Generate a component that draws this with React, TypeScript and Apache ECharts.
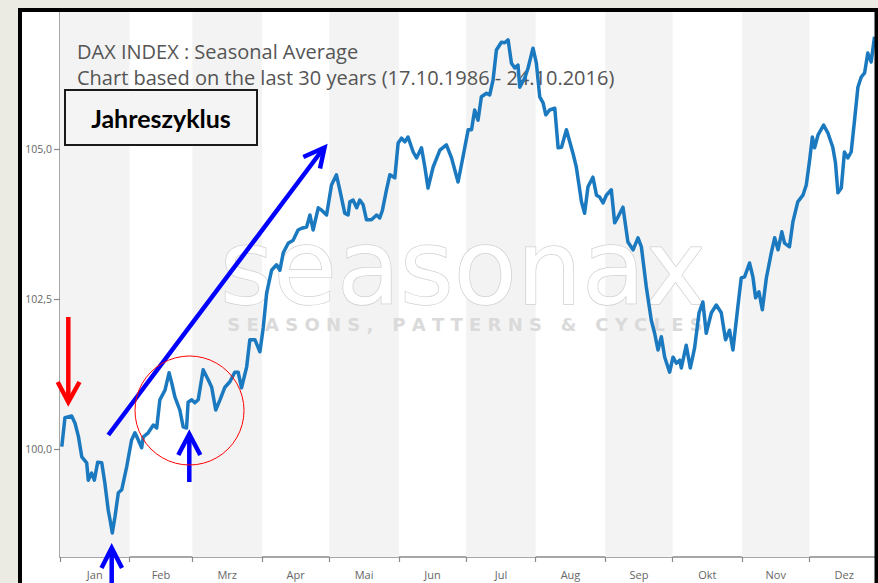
import React, { useEffect, useRef } from "react";
import * as echarts from "echarts";

const MONTHS = ["Jan", "Feb", "Mrz", "Apr", "Mai", "Jun", "Jul", "Aug", "Sep", "Okt", "Nov", "Dez"];
const MONTH_STARTS = [0, 31, 59, 90, 120, 151, 181, 212, 243, 273, 304, 334];
const YEAR_DAYS = 365;
const Y_TICKS = [100, 102.5, 105];
const Y_MIN = 98.2;
const Y_MAX = 107.3;

const TITLE_1 = "DAX INDEX : Seasonal Average";
const TITLE_2 = "Chart based on the last 30 years (17.10.1986 - 24.10.2016)";
const BOX_LABEL = "Jahreszyklus";
const WATERMARK = "seasonax";
const WATERMARK_SUB = "SEASONS, PATTERNS & CYCLES";

// day of year (0 = 1 Jan)
const DAYS = [
  0.8, 2.2, 5.2, 6.7, 8.2, 9.7, 11.9, 12.6, 14.1, 15.3, 16.8, 18.6, 20.0, 21.5, 22.3, 23.3, 24.5, 26.0, 27.5, 29.7,
  31.9, 33.4, 34.9, 36.4, 37.1, 39.3, 41.6, 43.1, 44.5, 46.8, 48.6, 49.8, 51.2, 53.4, 54.9, 56.4, 57.1, 58.7, 60.1, 61.6,
  63.8, 66.1, 67.6, 69.4, 71.3, 73.5, 75.7, 77.9, 79.4, 80.9, 83.2, 84.6, 86.9, 89.1, 90.6, 92.1, 94.3, 96.5, 98.0, 99.5,
  101.7, 103.9, 106.1, 107.7, 109.9, 111.4, 112.8, 115.1, 116.6, 118.8, 121.0, 123.2, 124.7, 126.9, 128.4, 129.2, 130.6, 132.2, 133.6, 135.1,
  136.6, 138.8, 141.1, 142.5, 143.7, 145.5, 147.0, 149.2, 150.7, 152.2, 153.7, 155.1, 157.4, 158.9, 161.1, 162.6, 164.0, 166.3, 169.3, 172.2,
  174.5, 177.4, 179.6, 181.9, 183.4, 184.8, 186.3, 187.8, 190.1, 191.5, 193.0, 194.5, 196.7, 198.2, 199.7, 201.2, 202.7, 204.1, 204.9, 207.1,
  208.6, 210.8, 212.3, 213.8, 215.3, 216.5, 218.2, 220.5, 222.0, 223.5, 225.7, 228.6, 230.1, 232.4, 233.8, 235.3, 237.5, 239.1, 240.5, 242.0,
  243.5, 245.7, 247.2, 248.7, 250.9, 253.1, 255.4, 257.6, 259.1, 261.3, 263.5, 265.0, 266.5, 268.0, 269.5, 271.7, 273.2, 274.7, 276.2, 276.9,
  279.1, 280.9, 282.8, 284.8, 286.5, 288.0, 290.3, 292.5, 294.7, 296.6, 298.4, 299.9, 302.1, 303.6, 305.1, 307.3, 308.8, 310.0, 311.5, 313.0,
  314.8, 317.0, 318.5, 320.0, 321.7, 322.9, 325.1, 326.6, 328.8, 331.1, 332.6, 334.1, 335.3, 336.3, 337.8, 340.3, 342.2, 344.4, 345.6, 346.7,
  348.2, 349.6, 351.1, 352.6, 354.1, 355.6, 357.1, 358.6, 360.0, 361.5, 363.0,
];

// seasonal average index level (start = 100)
const VALUES = [
  100.04, 100.52, 100.55, 100.43, 100.21, 99.87, 99.77, 99.48, 99.6, 99.48, 99.78, 99.77, 99.43, 98.98, 98.82, 98.6, 98.87, 99.27, 99.32, 99.7,
  100.15, 100.27, 100.15, 100.02, 100.2, 100.27, 100.4, 100.35, 100.82, 100.98, 101.27, 101.1, 100.87, 100.65, 100.37, 100.35, 100.78, 100.82, 100.77, 100.82,
  101.32, 101.15, 101.03, 100.65, 100.82, 101.03, 101.12, 101.28, 101.28, 101.02, 101.37, 101.82, 101.82, 101.62, 102.03, 102.6, 102.98, 103.07, 102.98, 103.27,
  103.43, 103.48, 103.65, 103.68, 103.7, 103.9, 103.65, 104.02, 103.98, 103.9, 104.4, 104.57, 104.32, 103.93, 103.9, 104.12, 104.15, 104.02, 104.15, 104.07,
  103.82, 103.82, 103.9, 103.85, 103.98, 104.32, 104.57, 104.52, 105.1, 105.18, 105.12, 105.2, 104.95, 104.85, 105.02, 104.7, 104.35, 104.7, 104.98, 105.07,
  104.85, 104.45, 104.87, 105.32, 105.32, 105.65, 105.48, 105.87, 105.93, 105.9, 106.15, 106.65, 106.78, 106.77, 106.82, 106.43, 106.35, 106.4, 106.03, 106.18,
  106.35, 106.68, 106.43, 105.87, 105.77, 105.57, 105.65, 105.68, 105.02, 105.03, 105.32, 104.93, 104.7, 104.12, 103.93, 104.37, 104.53, 104.23, 104.2, 104.1,
  104.23, 104.32, 103.77, 103.87, 104.03, 103.45, 103.32, 103.52, 103.37, 102.7, 102.15, 101.93, 101.65, 101.87, 101.53, 101.28, 101.53, 101.43, 101.48, 101.35,
  101.73, 101.35, 101.68, 102.27, 102.45, 101.93, 102.27, 102.4, 102.27, 101.82, 101.98, 101.65, 102.37, 102.85, 102.87, 103.1, 102.87, 102.52, 102.62, 102.32,
  102.85, 103.27, 103.52, 103.32, 103.62, 103.43, 103.37, 103.78, 104.12, 104.23, 104.4, 104.82, 105.2, 105.02, 105.23, 105.4, 105.27, 105.03, 104.77, 104.27,
  104.35, 104.95, 104.85, 104.95, 105.48, 106.03, 106.2, 106.27, 106.6, 106.45, 106.87,
];

export default function App() {
  const ref = useRef<HTMLDivElement>(null);

  useEffect(() => {
    if (!ref.current) return;
    const chart = echarts.init(ref.current, undefined, { renderer: "svg" });

    const monthEnds = MONTH_STARTS.slice(1).concat([YEAR_DAYS]);
    const monthMids = MONTH_STARTS.map((s, i) => (s + monthEnds[i]) / 2);
    const bands = MONTH_STARTS.map((s, i) => [{ xAxis: s }, { xAxis: monthEnds[i] }]).filter((_, i) => i % 2 === 0);
    const lineData = DAYS.map((d, i) => [d, VALUES[i]]);

    const blue = "#0000ff";
    const red = "#ff0000";
    const nb = "\u00a0";
    const spaced = WATERMARK_SUB.split(" ")
      .map((w) => w.split("").join(nb))
      .join(nb + nb + nb);

    chart.setOption({
      animation: false,
      backgroundColor: "#ecebe3",
      grid: { left: 60, top: 11, width: 819, height: 546, outerBoundsMode: "none", containLabel: false },
      xAxis: {
        type: "value",
        min: 0,
        max: YEAR_DAYS,
        axisLine: { show: true, lineStyle: { color: "#8a8a8a", width: 1.5 } },
        axisTick: { show: true, customValues: MONTH_STARTS, length: 5, lineStyle: { color: "#8a8a8a", width: 1.2 } },
        axisLabel: {
          customValues: monthMids,
          formatter: (v: number) => {
            const i = monthMids.findIndex((m) => Math.abs(m - v) < 0.01);
            return i >= 0 ? MONTHS[i] : "";
          },
          color: "#666",
          fontSize: 11,
          fontFamily: "Open Sans",
          margin: 12,
        },
        splitLine: { show: false },
      },
      yAxis: {
        type: "value",
        min: Y_MIN,
        max: Y_MAX,
        axisLine: { show: true, lineStyle: { color: "#8a8a8a", width: 1.5 } },
        axisTick: { show: true, customValues: Y_TICKS, length: 6, lineStyle: { color: "#8a8a8a", width: 1.2 } },
        axisLabel: {
          customValues: Y_TICKS,
          formatter: (v: number) => v.toFixed(1).replace(".", ","),
          color: "#666",
          fontSize: 10.5,
          fontFamily: "Open Sans",
          margin: 8,
        },
        splitLine: { show: false },
      },
      series: [
        {
          type: "line",
          z: 1,
          data: [],
          silent: true,
          markArea: {
            silent: true,
            itemStyle: { color: "#f3f3f3" },
            data: bands,
          },
        },
        {
          type: "line",
          z: 3,
          data: lineData,
          symbol: "none",
          lineStyle: { color: "#1b79bf", width: 3.5, join: "round" },
        },
      ],
      graphic: {
        elements: [
          { type: "rect", z: -10, shape: { x: 20, y: 10, width: 870, height: 600 }, style: { fill: "#ffffff" } },
          {
            type: "text",
            z: 2,
            x: 463,
            y: 268,
            style: {
              text: WATERMARK,
              font: "normal 103px 'DejaVu Sans'",
              fill: "#ffffff",
              stroke: "#d0d0d0",
              lineWidth: 1.5,
              align: "center",
              verticalAlign: "middle",
            },
          },
          {
            type: "text",
            z: 2,
            x: 465,
            y: 324,
            style: {
              text: spaced,
              font: "bold 18px 'DejaVu Sans'",
              fill: "#dadada",
              align: "center",
              verticalAlign: "middle",
            },
          },
          {
            type: "text",
            z: 2,
            x: 77,
            y: 51,
            style: { text: TITLE_1, font: "20px 'Open Sans'", fill: "#555", verticalAlign: "middle" },
          },
          {
            type: "text",
            z: 2,
            x: 77,
            y: 77,
            style: { text: TITLE_2, font: "20px 'Open Sans'", fill: "#555", verticalAlign: "middle" },
          },
          {
            type: "rect",
            z: 10,
            shape: { x: 65, y: 90, width: 192, height: 55 },
            style: { fill: "#f4f4f4", stroke: "#1a1a1a", lineWidth: 2 },
          },
          {
            type: "text",
            z: 11,
            x: 161,
            y: 118,
            style: { text: BOX_LABEL, font: "bold 25px Lato", fill: "#000", align: "center", verticalAlign: "middle" },
          },
          // red arrow (down)
          { type: "line", z: 10, shape: { x1: 68.3, y1: 317, x2: 68.3, y2: 399 }, style: { stroke: red, lineWidth: 4.5 } },
          {
            type: "polyline",
            z: 10,
            shape: { points: [[57.7, 382], [68.3, 402], [79.5, 382]] },
            style: { stroke: red, lineWidth: 4.5, fill: "none" },
          },
          // blue arrow (Jan low)
          { type: "line", z: 10, shape: { x1: 111.7, y1: 550, x2: 111.7, y2: 590 }, style: { stroke: blue, lineWidth: 4.5 } },
          {
            type: "polyline",
            z: 10,
            shape: { points: [[101.5, 568], [111.7, 548], [122, 568]] },
            style: { stroke: blue, lineWidth: 4.5, fill: "none" },
          },
          // blue arrow (Feb low)
          { type: "line", z: 10, shape: { x1: 189.3, y1: 482, x2: 189.3, y2: 436 }, style: { stroke: blue, lineWidth: 4.5 } },
          {
            type: "polyline",
            z: 10,
            shape: { points: [[178.3, 455], [189.3, 434], [200.3, 455]] },
            style: { stroke: blue, lineWidth: 4.5, fill: "none" },
          },
          // blue trend arrow
          { type: "line", z: 10, shape: { x1: 108.3, y1: 435, x2: 323, y2: 149 }, style: { stroke: blue, lineWidth: 4.5 } },
          {
            type: "polyline",
            z: 10,
            shape: { points: [[303.3, 157], [324.5, 147.5], [320, 168.5]] },
            style: { stroke: blue, lineWidth: 4.5, fill: "none" },
          },
          // red circle
          {
            type: "circle",
            z: 10,
            shape: { cx: 189.5, cy: 410.5, r: 54.5 },
            style: { stroke: red, lineWidth: 1, fill: "none" },
          },
          // frame border
          {
            type: "rect",
            z: 20,
            shape: { x: 20, y: 10, width: 856.5, height: 620 },
            style: { fill: "none", stroke: "#000", lineWidth: 4 },
          },
        ],
      },
    });

    return () => chart.dispose();
  }, []);

  return <div ref={ref} style={{ position: "fixed", left: 0, top: 0, width: 878, height: 583 }} />;
}
